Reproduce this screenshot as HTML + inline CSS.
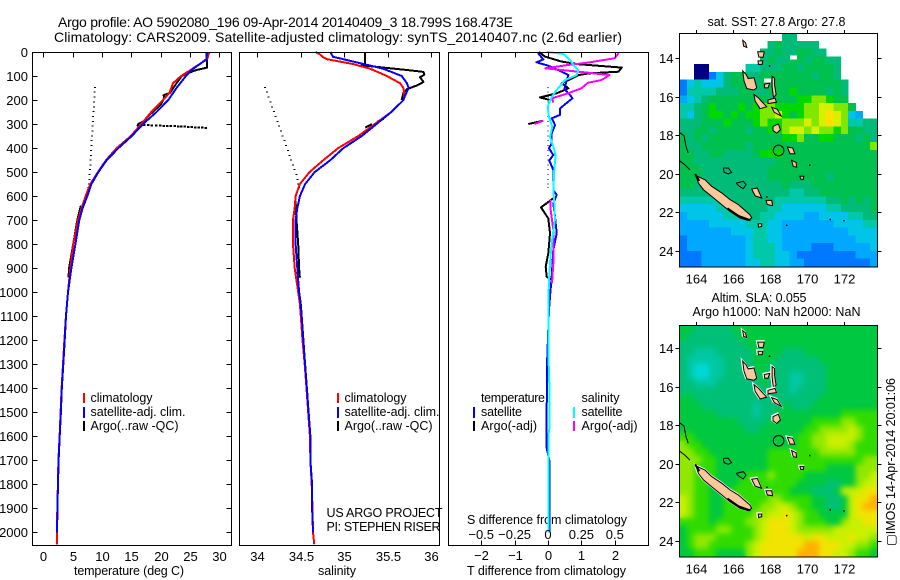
<!DOCTYPE html>
<html>
<head>
<meta charset="utf-8">
<title>Argo profile</title>
<style>
html,body{margin:0;padding:0;background:#fff;}
svg{display:block;font-family:"Liberation Sans",sans-serif;font-size:12.5px;fill:#000;}
text{stroke:none;}
</style>
</head>
<body>
<svg id="chart" xmlns="http://www.w3.org/2000/svg" width="900" height="580" viewBox="0 0 900 580">
<defs>
<filter id="smooth" filterUnits="userSpaceOnUse" x="670" y="315" width="220" height="250" color-interpolation-filters="sRGB">
<feGaussianBlur in="SourceGraphic" stdDeviation="3" result="b"/>
<feMerge><feMergeNode in="SourceGraphic"/><feMergeNode in="b"/></feMerge>
</filter>
<clipPath id="slaClip"><rect x="679.5" y="325" width="198" height="231.5"/></clipPath>
</defs>
<rect x="0" y="0" width="900" height="580" fill="#fff"/>
<text x="58" y="27" font-size="14" textLength="455">Argo profile: AO 5902080_196 09-Apr-2014 20140409_3 18.799S 168.473E</text>
<text x="54" y="42" font-size="14" textLength="568">Climatology: CARS2009. Satellite-adjusted climatology: synTS_20140407.nc (2.6d earlier)</text>

<text x="74" y="575" textLength="110">temperature (deg C)</text>
<text x="318" y="575" textLength="38">salinity</text>
<text x="467" y="575" textLength="159">T difference from climatology</text>
<text x="467" y="524" textLength="160">S difference from climatology</text>

<g>
<rect x="83" y="393" width="2" height="10" fill="#f00"/>
<text x="90.5" y="402" textLength="62">climatology</text>
<rect x="83" y="407" width="2" height="11" fill="#00f"/>
<text x="90.5" y="416" textLength="95">satellite-adj. clim.</text>
<rect x="83" y="421" width="2" height="10" fill="#000"/>
<text x="90.5" y="430" textLength="88">Argo(..raw -QC)</text>
</g>
<g>
<rect x="337" y="393" width="2" height="10" fill="#f00"/>
<text x="344.5" y="402" textLength="62">climatology</text>
<rect x="337" y="407" width="2" height="11" fill="#00f"/>
<text x="344.5" y="416" textLength="95">satellite-adj. clim.</text>
<rect x="337" y="421" width="2" height="10" fill="#000"/>
<text x="344.5" y="430" textLength="88">Argo(..raw -QC)</text>
</g>
<text x="326.5" y="517" textLength="116">US ARGO PROJECT</text>
<text x="326.5" y="531" textLength="114">PI: STEPHEN RISER</text>

<g>
<text x="481" y="402" textLength="64">temperature</text>
<rect x="473" y="407" width="2" height="11" fill="#00f"/>
<text x="481" y="416" textLength="41">satellite</text>
<rect x="473" y="421" width="2" height="10" fill="#000"/>
<text x="481" y="430" textLength="56">Argo(-adj)</text>
<text x="581.5" y="402" textLength="38">salinity</text>
<rect x="573" y="407" width="2" height="11" fill="#0ff"/>
<text x="581.5" y="416" textLength="41">satellite</text>
<rect x="573" y="421" width="2" height="10" fill="#f0f"/>
<text x="581.5" y="430" textLength="56">Argo(-adj)</text>
</g>

<text x="707.5" y="26" textLength="138">sat. SST: 27.8 Argo: 27.8</text>
<text x="711.5" y="302" textLength="95">Altim. SLA: 0.055</text>
<text x="692.5" y="316" textLength="168">Argo h1000: NaN h2000: NaN</text>
<text transform="translate(895,546) rotate(-90)" textLength="168">&#9634;IMOS 14-Apr-2014 20:01:06</text>
<g id="marks"></g>
</svg>
<script>
/* ---------- profile data ---------- */
const depthTicks = [0,100,200,300,400,500,600,700,800,900,1000,1100,1200,1300,1400,1500,1600,1700,1800,1900,2000];
const tempTicks = [0,5,10,15,20,25,30];
const salTicks = [34,34.5,35,35.5,36];
const salTickLabels = ['34','34.5','35','35.5','36'];
const tDiffTicks = [-2,-1,0,1,2];
const tDiffLabels = ['\u22122','\u22121','0','1','2'];
const sDiffTicks = [-0.5,-0.25,0,0.25,0.5];
const sDiffLabels = ['\u22120.5','\u22120.25','0','0.25','0.5'];

const climTempDepth = [0,30,70,100,130,170,200,250,300,350,400,450,500,550,600,650,700,800,900,1000,1100,1200,1300,1400,1500,1600,1700,1800,1900,2000,2050];
const climTemp = [28.3,27.9,25.4,23.5,22.1,21.5,20.4,18.4,16.7,14.9,12.5,10.7,9.3,8,7.2,6.5,5.9,5.1,4.6,4.2,3.85,3.6,3.35,3.12,2.95,2.78,2.58,2.48,2.38,2.34,2.34];
const satTempDepth = [0,30,50,70,100,150,200,250,300,350,400,450,500,550,600,650,700,800,900,1000,1100,1200,1300,1400,1500,1600,1700,1800,1900,2000];
const satTemp = [27.9,27.8,26.7,25.5,24.3,22.7,21.3,19.3,17,15.06,12.8,10.8,9.37,8.2,7.5,6.7,6.14,5.46,4.78,4.2,3.87,3.65,3.4,3.15,3,2.8,2.6,2.5,2.4,2.35];
const argoTempDepth = [0,65,75,90,100,130,170,180,190,220,260,290,300,310,null,640,700,800,900,940];
const argoTemp = [27.8,27.9,26.1,24.4,23.6,22.7,21.6,20.5,20.6,20,18.2,17,16.2,16,null,6.4,5.8,5.1,4.4,4.3];
const argoTailDepth = [303,305,306,307,307,308,308,309,309,310,310,311,312,313,314,315,315,316];
const argoTailTemp = [17.2,17.9,18.5,19.2,19.9,20.5,21.1,21.7,22.4,23,23.5,24.1,24.7,25.3,25.9,26.5,27.1,27.7];

const dotDepth = [147,167,188,208,228,248,268,289,309,329,349,369,390,410,430,450,470,490,510,530,550,565];
const dotTemp = [8.8,8.75,8.7,8.65,8.6,8.55,8.5,8.45,8.4,8.35,8.3,8.25,8.2,8.15,8.1,8.05,8,7.95,7.9,7.85,7.8,7.7];
const dotSal = [34.09,34.11,34.13,34.15,34.17,34.19,34.21,34.23,34.25,34.27,34.29,34.31,34.33,34.35,34.37,34.39,34.41,34.43,34.45,34.46,34.47,34.48];
const dotDiff = [0,0,0,0,0,0,0,0,0,0,0,0,0,0,0,0,0,0,0,0,0,0];

const climSalDepth = [0,10,20,30,50,70,100,130,150,180,200,250,300,350,400,450,500,550,600,650,700,800,900,1000,1050,1100,1200,1300,1400,1500,1600,1700,1800,1900,2000,2050];
const climSal = [34.67,34.72,34.75,34.8,35.1,35.3,35.49,35.64,35.68,35.69,35.68,35.54,35.35,35.16,34.93,34.76,34.6,34.49,34.44,34.43,34.41,34.41,34.43,34.47,34.49,34.5,34.52,34.545,34.565,34.585,34.605,34.61,34.625,34.635,34.64,34.655];
const satSalDepth = [0,20,30,50,70,100,130,150,180,200,250,300,350,400,450,500,550,600,650,700,800,900,1000,1050,1100,1200,1300,1400,1500,1600,1700,1800,1900,2000];
const satSal = [34.84,34.87,34.99,35.22,35.45,35.66,35.72,35.74,35.7,35.68,35.54,35.37,35.2,34.99,34.84,34.66,34.55,34.49,34.46,34.44,34.44,34.46,34.48,34.5,34.51,34.53,34.55,34.57,34.59,34.61,34.61,34.63,34.63,34.64];
const argoSalDepth = [0,50,55,65,75,83,95,105,125,140,155,170,200,null,279,290,null,300,315,null,620,700,800,900,940];
const argoSal = [35.24,35.24,35.2,35.45,35.72,35.91,35.92,35.87,35.91,35.83,35.72,35.68,35.66,null,35.45,35.38,null,35.32,35.24,null,34.44,34.45,34.47,34.48,34.49];

const tSatDepth = [0,6,31,43,57,82,96,117,155,179,193,235,262,276,304,339,380,401,429,452,491,575,595,630,686,755,824,936,1019,1074,1300,1500,1650,1700,2000];
const tSat = [-0.29,-0.29,-0.14,-0.34,0.01,0.41,0.61,0.56,0.49,0.66,0.73,0.36,0.36,0.11,0.21,0.11,0.11,0.03,0.16,0.04,0.16,0.16,0.26,0.16,0.21,0.26,0.16,0.11,0.06,0.03,-0.03,-0.04,-0.04,0.04,0.04];
const tArgoDepth = [0,19,40,51,65,82,89,96,124,130,151,172,189,200,null,286,300,null,609,647,693,755,838,894,936,949];
const tArgo = [-0.27,-0.09,0.41,0.91,2.21,2.11,1.21,0.91,0.51,0.41,0.61,0.26,-0.24,0.06,null,-0.14,-0.59,null,0.16,-0.21,0.01,0.06,0.01,-0.07,-0.04,0.11];
const sSatDepth = [0,8,33,54,75,96,117,158,193,228,269,311,353,394,429,491,575,630,700,797,880,963,1060,1300,1420,1560,1600,2000];
const sSat = [-0.01,0.115,0.165,0.19,0.227,0.215,0.127,0.065,0.022,-0.002,0.007,0.032,0.015,0.04,0.057,0.047,0.04,0.047,0.052,0.027,0.015,0.007,0.002,0.005,0.012,0.012,0.002,0.002];
const sArgoDepth = [0,6,26,44,54,68,75,82,96,117,128,151,172,193,211,null,286,300,null,616,658,741,880,963];
const sArgo = [0.53,0.526,0.5,0.3,0.15,-0.02,0.1,0.23,0.46,0.4,0.3,0.25,0.15,0.03,0.04,null,-0.035,-0.1,null,0.02,0.02,0.04,0.04,0.03];

/* ---------- map data ---------- */
const lonTicks = [164,166,168,170,172];
const latTicks = [14,16,18,20,22,24];
const sstRows = [
"......... .....55.. .........",
"......... ...565555 5........",
"......... ..5565566 55.......",
"......... ..5655665 6655.....",
"..00..... 445556656 6665.....",
"..0013566 556666666 5665.....",
"134333566 556666666 66665....",
"144445556 655666766 66565....",
"234566666 666566677 88766....",
"445676667 678877778 899886...",
"435677676 778897678 89a9832..",
"555666766 678778889 89a984455",
"556656666 566778998 988786655",
"656566666 666667786 677666565",
"655666666 566666666 666666668",
"665566555 567776666 666666666",
"665555555 555566666 666666666",
"666555555 555666666 666666666",
"666555555 555666666 665666666",
"665555555 555556555 666666666",
"555555555 555555445 566666666",
"444444555 555544444 445565656",
"333334445 555443333 334455556",
"233333444 554433332 233334455",
"222233333 444332222 222333344",
"222222233 344332222 222223333",
"122222222 344332222 222222333",
"122222222 344432222 111222223",
"111222222 344433211 111111222",
"111222222 334433221 111111112"
];
const slaRows = [
"665555566 666666666 666666666","655555556 666666666 666666666","555555555 666666666 666666666",
"554445555 566665556 666666666","544444555 566655555 566666666","543344555 566555555 556666666",
"543344555 556555445 556666666","554445555 556555445 556666666","555555555 555555455 556666666",
"665555555 555555555 566666666","666555555 545556555 666666666","666665555 545566666 666677777",
"666666665 555666666 777788777","666666666 556666667 788889877","776666666 666666677 889999877",
"877666666 666666677 889998777","887766666 666777777 788888777","888776666 666777777 777777788",
"887776666 666777777 776666888","887776666 777877776 666666889","887766667 777777766 665566899",
"887766677 777777666 5556999aa","987766777 777887777 665569aab","987766777 778899877 665569abb",
"987766777 78899a987 766669aaa","777767777 889aaa987 7766899aa","677778877 789aaa988 888999999",
"678887777 789aaaaa9 aa999a998","678877777 89aaaaaab baaa99887","667776666 89aaaaabb baa998776"
];
const sstColors = {'0':'#000080','1':'#0078ff','2':'#00a8ff','3':'#00c4e8','4':'#00c8a8','5':'#00bc78','6':'#00c050','7':'#00d800','8':'#80e800','9':'#d8f000','a':'#ffe000'};
const slaColors = {'3':'#00d8d8','4':'#00c8a4','5':'#00c078','6':'#00c840','7':'#30dc00','8':'#90e800','9':'#c8f000','a':'#f0e400','b':'#ffb000'};
const noDataLons = [169.27,167.86];
const noDataLats = [13.97,15.16];

const islandNames = ['new-caledonia','santo','malekula','ambae','pentecost','ambrym','epi','efate','erromango','tanna','aneityum','mare','tiga','isle-of-pines','banks-north','banks-south','torres'];
const islandCoords = [
[[164,20.11],[164.49,20.32],[164.85,20.66],[165.39,21],[165.84,21.35],[166.29,21.61],[166.92,22.13],[167.02,22.3],[166.83,22.43],[166.38,22.3],[165.84,21.96],[165.39,21.61],[164.85,21.18],[164.4,20.83],[164.13,20.49]],
[[166.53,14.67],[166.71,14.85],[166.83,15.07],[167.14,15.02],[167.29,15.54],[167.14,15.66],[166.75,15.59],[166.6,15.19]],
[[167.14,15.89],[167.37,16.06],[167.83,16.53],[167.47,16.63],[167.2,16.23]],
[[167.7,15.36],[168,15.3],[167.9,15.55],[167.72,15.55]],
[[168.12,14.95],[168.26,15.05],[168.26,15.4],[168.34,15.9],[168.2,16.05],[168.12,15.5]],
[[167.9,16.18],[168.28,16.08],[168.36,16.3],[167.9,16.36]],
[[168.1,16.56],[168.4,16.66],[168.62,17.02],[168.24,16.82]],
[[168.17,17.55],[168.46,17.42],[168.57,17.72],[168.37,17.9],[168.17,17.76]],
[[168.95,18.62],[169.24,18.67],[169.36,18.97],[169.09,18.97]],
[[169.18,19.31],[169.42,19.42],[169.45,19.66],[169.27,19.63]],
[[169.63,20.14],[169.84,20.14],[169.81,20.3],[169.67,20.28]],
[[167.02,20.8],[167.32,20.75],[167.56,21.27],[167.2,21.15]],
[[167.79,21.39],[168.1,21.39],[168.15,21.66],[167.86,21.61]],
[[167.37,22.6],[167.56,22.6],[167.56,22.74],[167.39,22.78]],
[[167.34,13.68],[167.7,13.68],[167.63,13.97],[167.4,13.95]],
[[167.36,14.15],[167.62,14.15],[167.58,14.33],[167.38,14.33]],
[[166.53,13.08],[166.68,13.2],[166.75,13.45],[166.58,13.38]]
];
const reefNames = ['ouvea','lifou','coast-north','coast-south','caledonia-south-shore','caledonia-north-tip'];
const reefCoords = [
[[165.48,19.71],[165.75,19.71],[165.93,19.93],[165.75,20.02],[165.52,19.93],[165.48,19.71]],
[[166.17,20.49],[166.56,20.4],[166.71,20.57],[166.56,20.78],[166.35,20.66],[166.17,20.49]],
[[163.1,17.86],[163.35,18.03],[163.46,18.58],[163.58,18.93]],
[[163.1,19.33],[163.4,19.54],[163.67,19.8]],
[[165.7,21.8],[166.3,22.2],[166.95,22.42]],
[[163.95,20.02],[164.18,20.38]]
];
const dotLons = [167.97,170.15,168.9,171.26,172,167.83];
const dotLats = [14.4,19.55,22.67,22.37,22.43,21.2];
const argoLon = 168.473;
const argoLat = 18.799;

/* ---------- helpers ---------- */
const NS = 'http://www.w3.org/2000/svg';
const root = document.getElementById('marks');
function mk(tag, attrs, parent) {
  const n = document.createElementNS(NS, tag);
  for (const k in attrs) n.setAttribute(k, attrs[k]);
  (parent || root).appendChild(n);
  return n;
}
const yDepth = d => 52 + d * 0.24015;
const xTemp = t => 43.3 + t * 5.87;
const xSal = s => 257.3 + (s - 34) * 87;
const xTDiff = t => 548 + t * 33.4;
const xSDiff = s => 548 + s * 133.6;

function drawLine(depths, vals, xf, color, width, name) {
  let d = '', pen = false;
  depths.forEach((dep, i) => {
    if (dep === null || vals[i] === null) { pen = false; return; }
    d += (pen ? 'L' : 'M') + xf(vals[i]).toFixed(1) + ' ' + yDepth(dep).toFixed(1);
    pen = true;
  });
  const p = mk('path', {d: d, fill: 'none', stroke: color, 'stroke-width': width, 'stroke-linejoin': 'round', 'shape-rendering': 'crispEdges'});
  
  
}
function drawDots(depths, vals, xf, name, w, h) {
  depths.forEach((dep, i) => {
    const r = mk('rect', {x: (xf(vals[i]) - w / 2).toFixed(1), y: (yDepth(dep) - h / 2).toFixed(1), width: w, height: h, fill: '#000', 'shape-rendering': 'crispEdges'});
    
    
  });
}
function frame(x0, x1, y0, y1, name) {
  const r = mk('rect', {x: x0, y: y0, width: x1 - x0, height: y1 - y0, fill: 'none', stroke: '#000', 'stroke-width': 1, 'shape-rendering': 'crispEdges'});
  
  
}
function tick(x1, y1, x2, y2, name) {
  const l = mk('line', {x1: x1, y1: y1, x2: x2, y2: y2, stroke: '#000', 'stroke-width': 1, 'shape-rendering': 'crispEdges'});
  
  
}
function label(x, y, str, anchor, name) {
  const t = mk('text', {x: x, y: y, 'text-anchor': anchor, 'font-size': 13});
  t.textContent = str;
  
  
}

/* ---------- panel 1: temperature ---------- */
drawDots(dotDepth, dotTemp, xTemp, 'argo-rejected-temperature-point', 2, 1);
drawLine(argoTempDepth, argoTemp, xTemp, '#000', 2, 'argo-temperature-line');
drawDots(argoTailDepth, argoTailTemp, xTemp, 'argo-temperature-spike-point', 2.5, 2);
drawLine(climTempDepth, climTemp, xTemp, '#f00', 2, 'climatology-temperature-line');
drawLine(satTempDepth, satTemp, xTemp, '#00f', 2, 'satellite-temperature-line');
frame(32.5, 231.5, 52.5, 545.5, 'temperature-panel-frame');
depthTicks.forEach(d => {
  const y = Math.round(yDepth(d)) + 0.5;
  tick(32.5, y, 37.5, y, 'depth-tick-left');
  tick(226.5, y, 231.5, y, 'depth-tick-right');
  label(28, y + 4.5, String(d), 'end', 'depth-tick-label');
});
tempTicks.forEach(t => {
  const x = Math.round(xTemp(t)) + 0.5;
  tick(x, 52.5, x, 57.5, 'temperature-tick');
  label(x, 561, String(t), 'middle', 'temperature-tick-label');
});

/* ---------- panel 2: salinity ---------- */
drawDots(dotDepth, dotSal, xSal, 'argo-rejected-salinity-point', 2, 1);
drawLine(argoSalDepth, argoSal, xSal, '#000', 2, 'argo-salinity-line');
drawLine(climSalDepth, climSal, xSal, '#f00', 2, 'climatology-salinity-line');
drawLine(satSalDepth, satSal, xSal, '#00f', 2, 'satellite-salinity-line');
frame(239.5, 439.5, 52.5, 545.5, 'salinity-panel-frame');
salTicks.forEach((s, i) => {
  const x = Math.round(xSal(s)) + 0.5;
  tick(x, 52.5, x, 57.5, 'salinity-tick');
  label(x, 561, salTickLabels[i], 'middle', 'salinity-tick-label');
});

/* ---------- panel 3: differences ---------- */
drawDots(dotDepth, dotDiff, xTDiff, 'zero-reference-point', 1, 1);
drawLine(tArgoDepth, tArgo, xTDiff, '#000', 2, 'argo-temperature-difference-line');
drawLine(tSatDepth, tSat, xTDiff, '#00f', 2, 'satellite-temperature-difference-line');
drawLine(sArgoDepth, sArgo, xSDiff, '#f0f', 2, 'argo-salinity-difference-line');
drawLine(sSatDepth, sSat, xSDiff, '#0ff', 2, 'satellite-salinity-difference-line');
frame(448.5, 648.5, 52.5, 545.5, 'difference-panel-frame');
tDiffTicks.forEach((t, i) => {
  const x = Math.round(xTDiff(t)) + 0.5;
  tick(x, 52.5, x, 57.5, 'difference-tick-top');
  tick(x, 540.5, x, 545.5, 'difference-tick-bottom');
  label(x, 560, tDiffLabels[i], 'middle', 't-difference-tick-label');
});
sDiffTicks.forEach((s, i) => {
  label(xSDiff(s), 539, sDiffLabels[i], 'middle', 's-difference-tick-label');
});

/* ---------- maps ---------- */
function drawMap(top, bottom, rows, colors, prefix, isSla) {
  const L = 679.5, R = 877.5;
  const xLon = lon => 696 + (lon - 164) * 18.46;
  const yLat = lat => top + 25 + (lat - 14) * 19.27 - (isSla ? 1.7 : 0);
  const nCols = 27, nRows = rows.length;
  const cw = (R - L) / nCols, ch = (bottom - top) / nRows;
  const clip = mk('g', isSla ? {'clip-path': 'url(#slaClip)'} : {});
  
  
  const cells = mk('g', isSla ? {filter: 'url(#smooth)'} : {}, clip);
  
  
  rows.forEach((row, j) => {
    const r = row.replace(/ /g, '');
    for (let i = 0; i < nCols; i++) {
      const c = colors[r.charAt(i)];
      if (!c) continue;
      const cell = mk('rect', {x: (L + i * cw).toFixed(2), y: (top + j * ch).toFixed(2), width: (cw + 0.4).toFixed(2), height: (ch + 0.4).toFixed(2), fill: c, 'shape-rendering': 'crispEdges'}, cells);
      
      
    }
  });
  if (!isSla) {
    noDataLons.forEach((lon, k) => {
      const w = mk('rect', {x: xLon(lon) - 3.5, y: yLat(noDataLats[k]) - 2, width: 7, height: 4, fill: '#fff', 'shape-rendering': 'crispEdges'});
      
      
    });
  }
  const toPts = arr => arr.map(p => xLon(p[0]).toFixed(1) + ',' + yLat(p[1]).toFixed(1)).join(' ');
  islandCoords.forEach((poly, k) => {
    if (isSla) {
      const w = mk('polygon', {points: toPts(poly), fill: 'none', stroke: '#fff', 'stroke-width': 2.2, transform: 'translate(-0.7,-0.7)'});
      
      
    }
    const g = mk('polygon', {points: toPts(poly), fill: '#fcc89b', stroke: '#000', 'stroke-width': 1});
    
    
  });
  reefCoords.forEach((line, k) => {
    const p = mk('polyline', {points: toPts(line), fill: 'none', stroke: '#000', 'stroke-width': k >= 4 ? 2 : 1});
    
    
  });
  dotLons.forEach((lon, k) => {
    const r = mk('rect', {x: xLon(lon) - 0.5, y: yLat(dotLats[k]) - 0.5, width: 1.5, height: 1.5, fill: '#000'});
    
    
  });
  const marker = mk('circle', {cx: xLon(argoLon), cy: yLat(argoLat), r: 5.3, fill: 'none', stroke: '#000', 'stroke-width': 1});
  
  
  frame(L, R, top + 0.5, bottom + 0.5, prefix + '-map-frame');
  lonTicks.forEach(lon => {
    const x = Math.round(xLon(lon)) + 0.5;
    tick(x, top - 3, x, top + 0.5, prefix + '-longitude-tick');
    label(x, bottom + 17, String(lon), 'middle', prefix + '-longitude-label');
  });
  latTicks.forEach(lat => {
    const y = Math.round(yLat(lat)) + 0.5;
    tick(L - 4, y, L, y, prefix + '-latitude-tick-left');
    tick(R, y, R + 4, y, prefix + '-latitude-tick-right');
    label(L - 6, y + 4.5, String(lat), 'end', prefix + '-latitude-label');
  });
}
drawMap(33, 266.5, sstRows, sstColors, 'sst', false);
drawMap(325, 556.5, slaRows, slaColors, 'sla', true);
</script>
</body>
</html>
